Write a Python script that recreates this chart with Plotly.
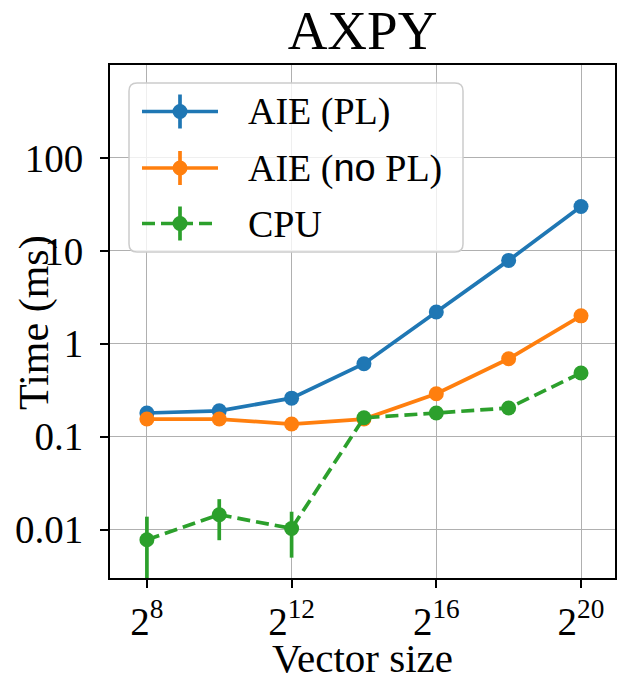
import plotly.graph_objects as go

# ---- data ----
exponents = [8, 10, 12, 14, 16, 18, 20]          # vector size = 2**exponent
aie_pl = [0.18, 0.19, 0.26, 0.61, 2.2, 7.9, 30.0]
aie_pl_err = [0, 0, 0, 0, 0, 0, 0]
aie_nopl = [0.155, 0.155, 0.137, 0.155, 0.29, 0.69, 2.0]
aie_nopl_err = [0, 0, 0, 0, 0, 0, 0]
cpu = [0.0078, 0.0145, 0.0103, 0.16, 0.18, 0.204, 0.485]
cpu_err = [0.006, 0.0068, 0.0053, 0, 0, 0, 0]

x_tickvals = [8, 12, 16, 20]
x_ticktext = ["2<sup>8</sup>", "2<sup>12</sup>", "2<sup>16</sup>", "2<sup>20</sup>"]
y_tickvals = [0.01, 0.1, 1, 10, 100]
y_ticktext = ["0.01", "0.1", "1", "10", "100"]

series_names = ["AIE (PL)", 'AIE (<span style="font-family:Liberation Sans">no</span> PL)', "CPU"]
colors = ["#1f77b4", "#ff7f0e", "#2ca02c"]
dashes = ["solid", "solid", "13px,6px"]

SERIF = "Liberation Serif, Times New Roman, serif"
W, H = 617, 679
L, R, T, B = 110, 615, 65, 578


def px(X):
    return (X - L) / (R - L)


def py(Y):
    return (B - Y) / (B - T)


fig = go.Figure()
for name, ys, errs, c, d in zip(series_names, [aie_pl, aie_nopl, cpu],
                                [aie_pl_err, aie_nopl_err, cpu_err], colors, dashes):
    fig.add_trace(go.Scatter(
        x=exponents, y=ys, name=name, mode="lines+markers",
        line=dict(color=c, width=3.7, dash=d),
        marker=dict(color=c, size=15, line=dict(width=0)),
        error_y=dict(type="data", array=errs, visible=True, color=c,
                     thickness=3.7, width=0),
        showlegend=False,
    ))

fig.update_layout(
    width=W, height=H,
    margin=dict(l=L, r=W - R, t=T, b=H - B, pad=0, autoexpand=False),
    paper_bgcolor="white", plot_bgcolor="white",
    font=dict(family=SERIF, color="black", size=39),
    title=dict(text="AXPY", x=(L + R) / 2 / W, xanchor="center",
               y=1 - 30 / H, yanchor="middle",
               font=dict(family=SERIF, size=55, color="black")),
    xaxis=dict(range=[6.98, 20.94], tickvals=x_tickvals, ticktext=x_ticktext,
               automargin=False,
               showgrid=True, gridcolor="#b0b0b0", gridwidth=1.3,
               showline=True, linecolor="black", linewidth=2, mirror=True,
               ticks="outside", ticklen=8, tickwidth=2, tickcolor="black",
               tickfont=dict(family=SERIF, size=39), zeroline=False),
    yaxis=dict(type="log", range=[-2.52, 3.0], tickvals=y_tickvals, ticktext=y_ticktext,
               automargin=False, ticklabelstandoff=9,
               showgrid=True, gridcolor="#b0b0b0", gridwidth=1.3,
               showline=True, linecolor="black", linewidth=2, mirror=True,
               ticks="outside", ticklen=8, tickwidth=2, tickcolor="black",
               tickfont=dict(family=SERIF, size=39), zeroline=False),
)

annotations = [
    dict(text="Vector size", x=0.5, y=py(658), xref="paper", yref="paper",
         xanchor="center", yanchor="middle", showarrow=False,
         font=dict(family=SERIF, size=41, color="black")),
    dict(text="Time (ms)", x=px(34), y=py(323), xref="paper", yref="paper",
         xanchor="center", yanchor="middle", textangle=-90, showarrow=False,
         font=dict(family=SERIF, size=42, color="black")),
]

# ---- legend drawn by hand (matplotlib style) ----
shapes = []
bx0, by0, bx1, by1, rad = 129, 83, 463, 252, 8
path = (f"M {px(bx0 + rad)},{py(by0)} L {px(bx1 - rad)},{py(by0)} "
        f"Q {px(bx1)},{py(by0)} {px(bx1)},{py(by0 + rad)} "
        f"L {px(bx1)},{py(by1 - rad)} Q {px(bx1)},{py(by1)} {px(bx1 - rad)},{py(by1)} "
        f"L {px(bx0 + rad)},{py(by1)} Q {px(bx0)},{py(by1)} {px(bx0)},{py(by1 - rad)} "
        f"L {px(bx0)},{py(by0 + rad)} Q {px(bx0)},{py(by0)} {px(bx0 + rad)},{py(by0)} Z")
shapes.append(dict(type="path", path=path, xref="paper", yref="paper",
                   fillcolor="rgba(255,255,255,0.8)",
                   line=dict(color="#cccccc", width=1.5), layer="above"))

rows = [111.5, 168, 223.5]
for rowY, name, c, d in zip(rows, series_names, colors, dashes):
    shapes.append(dict(type="line", xref="paper", yref="paper",
                       x0=px(142), x1=px(218), y0=py(rowY), y1=py(rowY),
                       line=dict(color=c, width=3.7, dash=d), layer="above"))
    shapes.append(dict(type="line", xref="paper", yref="paper",
                       x0=px(180), x1=px(180), y0=py(rowY - 17), y1=py(rowY + 17),
                       line=dict(color=c, width=3.7), layer="above"))
    shapes.append(dict(type="circle", xref="paper", yref="paper",
                       x0=px(180 - 7.5), x1=px(180 + 7.5),
                       y0=py(rowY - 7.5), y1=py(rowY + 7.5),
                       fillcolor=c, line=dict(width=0), layer="above"))
    annotations.append(dict(text=name, x=px(246), y=py(rowY), xref="paper", yref="paper",
                            xanchor="left", yanchor="middle", showarrow=False,
                            font=dict(family=SERIF, size=38, color="black")))

fig.update_layout(shapes=shapes, annotations=annotations)
fig.write_html("out.html", config={"displayModeBar": False},
               post_script="document.body.style.margin='0px';document.body.style.padding='0px';")
